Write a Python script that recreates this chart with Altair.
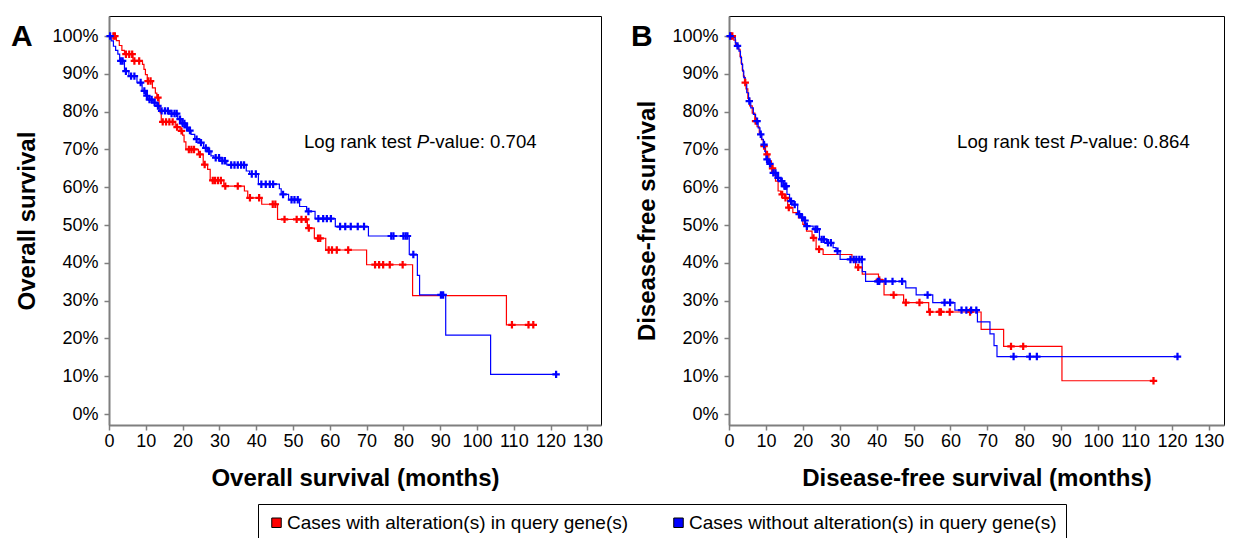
import altair as alt
import pandas as pd

FONT = "Liberation Sans"
GROUPS = ["Cases with alteration(s) in query gene(s)",
          "Cases without alteration(s) in query gene(s)"]
COLORS = ["#FF0000", "#0000FF"]
X_TICKS = list(range(0, 131, 10))
Y_TICKS = list(range(0, 101, 10))

# ---------- Panel A: overall survival (months, %) ----------
A_RED_T = [0, 2.0, 2.8, 3.5, 4.2, 6.5, 9.1, 9.5, 9.9, 10.4, 11.8, 12.6, 13.0, 13.6, 13.9,
           14.2, 18.0, 19.3, 20.0, 20.4, 20.9, 24.3, 25.6, 26.8, 27.5, 31.2, 36.8, 37.7,
           41.5, 45.8, 53.9, 55.8, 58.9, 70.0, 82.5, 108.0]
A_RED_S = [100, 98.8, 97.5, 96.2, 95.2, 93.4, 92.5, 91.2, 89.8, 88.1, 86.3, 84.9, 83.7, 81.5,
           79.7, 77.3, 75.9, 74.9, 73.8, 72.0, 70.0, 68.7, 66.0, 64.7, 61.8, 60.3, 59.0, 57.2,
           55.5, 51.5, 49.2, 46.5, 43.4, 39.5, 31.3, 23.6]
A_RED_CENS = [1.2, 1.6, 4.6, 5.5, 6.3, 6.9, 8.2, 10.6, 11.3, 13.3, 14.6, 15.5, 16.4, 17.3,
              18.5, 19.7, 21.7, 22.4, 23.1, 24.7, 26.0, 28.2, 28.8, 29.6, 30.4, 31.6, 35.0,
              38.3, 40.8, 44.5, 45.2, 47.7, 51.0, 52.3, 53.5, 54.3, 56.8, 57.4, 59.7, 60.6,
              61.9, 65.0, 72.3, 73.4, 74.5, 76.3, 79.8, 109.5, 114.0, 115.3]

A_BLUE_T = [0, 0.6, 1.2, 1.8, 2.4, 2.9, 4.2, 5.4, 7.6, 9.0, 9.9, 10.6, 12.0, 13.0, 13.8, 16.5,
            18.7, 19.6, 20.8, 21.6, 22.3, 23.3, 24.5, 25.7, 26.8, 27.7, 28.5, 30.4, 32.0, 37.3,
            38.2, 40.6, 46.3, 46.8, 48.8, 51.8, 53.7, 56.0, 61.5, 70.5, 81.6, 83.8, 84.4, 91.5,
            103.7]
A_BLUE_S = [100, 98.7, 97.3, 96.2, 95.2, 93.4, 90.7, 89.4, 87.7, 85.5, 84.2, 83.2, 82.4, 81.5,
            80.2, 79.5, 78.0, 76.9, 75.8, 75.0, 74.0, 72.7, 71.8, 70.4, 69.5, 68.3, 67.8, 67.0,
            65.9, 64.3, 63.5, 60.8, 59.6, 58.1, 56.7, 54.9, 53.6, 51.7, 49.6, 47.1, 42.2, 36.7,
            31.5, 20.9, 10.5]
A_BLUE_CENS = [0.3, 3.2, 3.7, 4.6, 6.0, 6.9, 8.6, 9.6, 10.3, 11.0, 11.6, 12.4, 13.3, 14.3, 15.2,
               16.0, 17.0, 17.8, 18.4, 19.3, 20.0, 20.5, 21.2, 22.0, 23.8, 25.0, 26.3, 27.2,
               29.0, 29.9, 30.8, 31.5, 33.2, 34.1, 35.0, 35.9, 36.7, 38.8, 39.9, 41.4, 42.6,
               43.7, 44.6, 47.3, 49.6, 50.4, 51.3, 54.2, 56.9, 58.2, 59.2, 60.3, 62.8, 64.2,
               65.7, 67.6, 69.3, 76.7, 77.3, 80.0, 80.6, 81.1, 82.7, 90.2, 90.8, 121.5]

# ---------- Panel B: disease-free survival (months, %) ----------
B_RED_T = [0, 1.3, 1.8, 2.5, 3.0, 3.3, 3.6, 3.9, 4.2, 4.6, 5.1, 5.6, 6.3, 7.0, 7.6, 8.2, 8.8,
           9.3, 9.9, 10.8, 11.5, 12.2, 12.6, 13.3, 14.0, 15.0, 15.9, 17.3, 18.8, 20.0, 21.0,
           22.5, 23.6, 25.5, 33.3, 34.3, 36.1, 40.5, 42.0, 47.3, 54.1, 68.3, 74.4, 90.2]
B_RED_S = [100, 98.9, 97.8, 96.5, 94.6, 92.8, 91.0, 89.4, 87.7, 86.0, 83.5, 81.5, 79.6, 77.5,
           76.0, 74.3, 72.6, 70.9, 68.7, 67.0, 65.0, 63.2, 61.6, 59.0, 58.1, 57.2, 54.6, 53.3,
           51.9, 50.2, 48.4, 46.6, 43.6, 42.2, 40.6, 38.8, 37.0, 35.5, 31.5, 29.5, 27.0, 22.4,
           17.9, 8.8]
B_RED_CENS = [0.5, 0.9, 4.4, 7.2, 9.5, 10.3, 11.8, 14.4, 15.3, 16.2, 22.9, 24.4, 35.0, 40.7,
              44.6, 47.9, 51.6, 54.4, 57.0, 57.4, 59.8, 65.3, 76.4, 79.7, 115.0]

B_BLUE_T = [0, 0.8, 1.7, 2.0, 2.7, 3.1, 3.4, 3.7, 4.0, 4.4, 4.8, 5.3, 5.9, 6.6, 7.2, 7.9, 8.4,
            8.9, 9.3, 9.7, 10.0, 10.7, 11.6, 12.8, 13.9, 14.8, 15.7, 16.4, 17.3, 18.6, 19.4,
            20.2, 20.7, 22.8, 24.5, 26.4, 28.2, 29.0, 30.1, 36.1, 37.0, 47.9, 50.7, 55.2, 61.2,
            67.3, 70.7, 71.8, 72.6]
B_BLUE_S = [100, 99.6, 98.2, 97.4, 96.0, 94.3, 92.5, 90.7, 89.0, 87.2, 85.0, 82.8, 81.0, 79.3,
            77.5, 75.7, 74.0, 72.7, 71.3, 69.5, 67.4, 66.2, 63.8, 62.5, 61.6, 60.3, 58.1, 56.3,
            55.4, 52.9, 52.0, 51.2, 49.7, 48.9, 46.2, 45.3, 44.0, 43.1, 40.9, 37.7, 35.1, 33.4,
            31.5, 29.5, 27.5, 24.4, 21.2, 18.1, 15.2]
B_BLUE_CENS = [0.3, 2.3, 5.5, 7.6, 8.6, 9.5, 10.3, 11.1, 12.0, 12.6, 13.3, 14.3, 15.0, 15.2,
               15.5, 16.8, 17.8, 19.0, 19.8, 20.6, 21.1, 23.4, 23.9, 25.1, 25.7, 26.8, 27.6,
               29.4, 32.9, 33.8, 34.5, 35.3, 36.0, 40.3, 40.7, 42.4, 44.3, 46.9, 53.8, 58.4,
               59.9, 63.0, 64.3, 65.6, 67.0, 77.1, 81.5, 83.4, 121.5]

CROSS = "M-1,-0.3H-0.3V-1H0.3V-0.3H1V0.3H0.3V1H-0.3V0.3H-1Z"


def surv_at(ts, ss, t):
    s = ss[0]
    for ti, si in zip(ts, ss):
        if ti <= t:
            s = si
    return s


def panel(letter, red, blue, xmax, ytitle, xtitle, pval, txt_t, txt_s, width):
    pts = []
    line_layers = []
    xs = alt.Scale(domain=[0, xmax], nice=False, zero=False)
    ys = alt.Scale(domain=[-2.9, 105.3], nice=False, zero=False)
    xax = alt.Axis(values=X_TICKS, title=xtitle, labelFlush=False, labelOverlap=False)
    yax = alt.Axis(values=Y_TICKS, title=ytitle, labelExpr="datum.value + '%'",
                   labelOverlap=False, labelFlush=False)
    X = alt.X("t:Q", scale=xs, axis=xax)
    Y = alt.Y("s:Q", scale=ys, axis=yax)
    for g, col, (ts, ss, cs) in zip(GROUPS, COLORS, (red, blue)):
        rows = [{"t": t, "s": s} for t, s in zip(ts, ss)]
        end = max(cs)
        if end > ts[-1]:
            rows.append({"t": end, "s": ss[-1]})
        line_layers.append(
            alt.Chart(pd.DataFrame(rows)).mark_line(
                interpolate="step-after", strokeWidth=1.2, color=col
            ).encode(x=X, y=Y)
        )
        for c in cs:
            pts.append({"g": g, "t": c, "s": surv_at(ts, ss, c)})
    cscale = alt.Scale(domain=GROUPS, range=COLORS)
    cens = alt.Chart(pd.DataFrame(pts)).mark_point(
        shape=CROSS, filled=True, size=55, opacity=1
    ).encode(
        x=X, y=Y,
        fill=alt.Fill("g:N", scale=cscale, legend=alt.Legend(
            title=None, orient="none", legendX=149, legendY=488,
            direction="horizontal", columns=2,
            symbolType="square", symbolSize=90, symbolStrokeColor="black",
            symbolStrokeWidth=1, labelFont=FONT, labelFontSize=19, labelColor="black",
            columnPadding=40, labelOffset=1, padding=9,
            strokeColor="black", fillColor="white", labelLimit=600)),
    )
    lab = alt.Chart(pd.DataFrame({"t": [txt_t], "s": [txt_s]}))
    common = dict(align="left", baseline="middle", fontSize=18.6, font=FONT, color="black")
    t1 = lab.mark_text(text="Log rank test ", **common).encode(x=X, y=Y)
    t2 = lab.mark_text(text="P", fontStyle="italic", dx=112.7, **common).encode(x=X, y=Y)
    t3 = lab.mark_text(text="-value: " + pval, dx=125.1, **common).encode(x=X, y=Y)
    let = alt.Chart(pd.DataFrame({"L": [letter]})).mark_text(
        align="left", baseline="alphabetic", fontSize=30, fontWeight="bold",
        font=FONT, color="black"
    ).encode(text="L:N", x=alt.value(-98), y=alt.value(30))
    return alt.layer(*line_layers, cens, t1, t2, t3, let).properties(width=width, height=409)


pA = panel("A", (A_RED_T, A_RED_S, A_RED_CENS), (A_BLUE_T, A_BLUE_S, A_BLUE_CENS),
           133.7, "Overall survival", "Overall survival (months)", "0.704", 53.0, 72.0, 492)
pB = panel("B", (B_RED_T, B_RED_S, B_RED_CENS), (B_BLUE_T, B_BLUE_S, B_BLUE_CENS),
           134.1, "Disease-free survival", "Disease-free survival (months)", "0.864", 61.8, 72.0, 495)

chart = alt.hconcat(pA, pB, spacing=27).resolve_scale(
    fill="shared"
).properties(
    padding={"left": 2, "top": 7, "right": 0, "bottom": 0},
    background="white",
).configure_axis(
    labelFont=FONT, labelFontSize=18, labelColor="black",
    titleFont=FONT, titleFontSize=24, titleFontWeight="bold", titleColor="black",
    domainColor="#7f7f7f", domainWidth=2, tickColor="#7f7f7f", tickSize=5, tickWidth=1.5,
    grid=False,
).configure_axisX(labelPadding=2, titlePadding=16).configure_axisY(
    labelPadding=6, titlePadding=12
).configure_view(stroke="black", strokeWidth=1)

chart.save("out.html", embed_options={"renderer": "svg", "actions": False})
